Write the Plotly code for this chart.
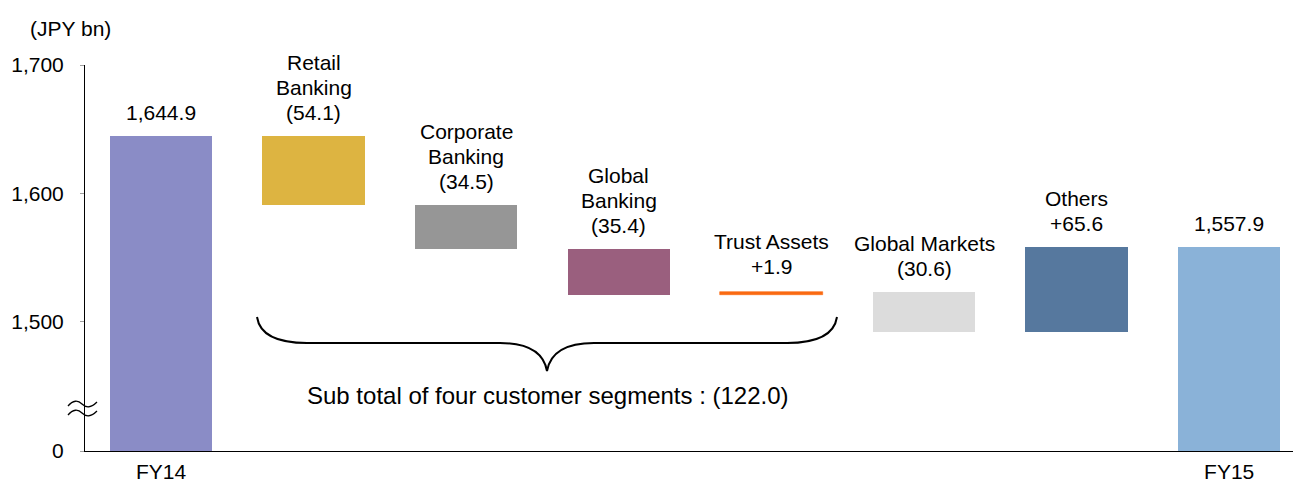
import plotly.graph_objects as go

# ---------------- data ----------------
categories = ["FY14", "Retail Banking", "Corporate Banking", "Global Banking",
              "Trust Assets", "Global Markets", "Others", "FY15"]
start_value = 1644.9
deltas = [-54.1, -34.5, -35.4, 1.9, -30.6, 65.6]
end_value = 1557.9
label_lines = [
    ["1,644.9"],
    ["Retail", "Banking", "(54.1)"],
    ["Corporate", "Banking", "(34.5)"],
    ["Global", "Banking", "(35.4)"],
    ["Trust Assets", "+1.9"],
    ["Global Markets", "(30.6)"],
    ["Others", "+65.6"],
    ["1,557.9"],
]
bar_colors = ["#8a8cc6", "#ddb441", "#969696", "#9a5f7e",
              "#fa6a12", "#dcdcdc", "#56789e", "#8ab2d8"]
y_tick_vals = [1500, 1600, 1700]
y_tick_text = ["1,500", "1,600", "1,700"]
x_tick_labels = ["FY14", "FY15"]
subtotal_text = "Sub total of four customer segments : (122.0)"

# ---------------- layout geometry ----------------
W, H = 1293, 483
ML, MR, MT, MB = 85, 0, 65, 32
PW, PH = W - ML - MR, H - MT - MB
Y1 = 1700
PX_PER_UNIT = 1.283
Y0 = Y1 - PH / PX_PER_UNIT          # value shown as "0" (broken axis)
STEP = 152.6
X0 = -(161 - ML) / STEP
X1 = X0 + PW / STEP
label_gap = [10, 10, 10, 10, 12, 10, 10, 10]      # px between bar top and label
bar_outline = [0, 0, 0, 0, 0.6, 0, 0, 0]           # thicken the thin Trust Assets bar


def px_paper(px):
    return (px - ML) / PW


def py_paper(py):
    return (MT + PH - py) / PH


# ---------------- waterfall computation ----------------
xs = list(range(len(categories)))
bases, heights, tops = [], [], []
bases.append(Y0); heights.append(start_value - Y0); tops.append(start_value)
cum = start_value
for d in deltas:
    new = cum + d
    bases.append(min(cum, new)); heights.append(abs(d)); tops.append(max(cum, new))
    cum = new
bases.append(Y0); heights.append(end_value - Y0); tops.append(end_value)

fig = go.Figure()
fig.add_trace(go.Bar(
    x=xs, y=heights, base=bases, width=0.67,
    marker=dict(color=bar_colors, line=dict(width=bar_outline, color=bar_colors)),
    hoverinfo="skip", showlegend=False,
))

FONT = "Arial, 'Liberation Sans', sans-serif"
FS = 21
annotations = []
for i, lines in enumerate(label_lines):
    n = len(lines)
    for k, line in enumerate(lines):
        j = n - 1 - k
        annotations.append(dict(
            x=xs[i], y=tops[i], xref="x", yref="y", text=line, showarrow=False,
            xanchor="center", yanchor="bottom", yshift=label_gap[i] + 25 * j,
            font=dict(family=FONT, size=FS, color="#000000"),
        ))

annotations.append(dict(
    x=px_paper(548), y=py_paper(395), xref="paper", yref="paper", text=subtotal_text,
    showarrow=False, xanchor="center", yanchor="middle",
    font=dict(family=FONT, size=24, color="#000000"),
))
annotations.append(dict(
    x=px_paper(70), y=py_paper(28), xref="paper", yref="paper",
    text="(JPY bn)", showarrow=False, xanchor="center", yanchor="middle",
    font=dict(family=FONT, size=FS, color="#000000"),
))


def P(px, py):
    return f"{px_paper(px)},{py_paper(py)}"


brace = ("M " + P(257, 317) + " Q " + P(261, 343) + " " + P(307, 343) +
         " L " + P(500, 343) + " Q " + P(542, 343) + " " + P(547, 371) +
         " Q " + P(552, 343) + " " + P(594, 343) +
         " L " + P(787, 343) + " Q " + P(833, 343) + " " + P(837, 317))
shapes = [dict(type="path", path=brace, xref="paper", yref="paper",
               line=dict(color="#000000", width=2))]
for off in (0, 9):
    wave = ("M " + P(68, 406 + off) + " C " + P(73, 400 + off) + " " +
            P(78, 400 + off) + " " + P(82, 404 + off) + " S " +
            P(91, 408 + off) + " " + P(97, 402 + off))
    shapes.append(dict(type="path", path=wave, xref="paper", yref="paper",
                       line=dict(color="#000000", width=1.3)))

fig.update_layout(
    width=W, height=H,
    margin=dict(l=ML, r=MR, t=MT, b=MB, autoexpand=False),
    plot_bgcolor="white", paper_bgcolor="white",
    bargap=0,
    xaxis=dict(range=[X0, X1], tickvals=[xs[0], xs[-1]], ticktext=x_tick_labels,
               showline=True, linecolor="#000000", linewidth=1, showgrid=False,
               zeroline=False, ticks="", ticklabelstandoff=2, automargin=False,
               tickfont=dict(family=FONT, size=FS, color="#000000"),
               fixedrange=True),
    yaxis=dict(range=[Y0, Y1], tickvals=[Y0] + y_tick_vals, ticktext=["0"] + y_tick_text,
               showline=True, linecolor="#000000", linewidth=1, showgrid=False,
               zeroline=False, ticks="outside", ticklen=4, tickcolor="#a0a0a0",
               ticklabelstandoff=12, automargin=False,
               tickfont=dict(family=FONT, size=FS, color="#000000"), fixedrange=True),
    annotations=annotations,
    shapes=shapes,
)
fig.write_html("out.html", config={"displayModeBar": False},
               post_script="document.body.style.margin='0px';document.body.style.overflow='hidden';")
